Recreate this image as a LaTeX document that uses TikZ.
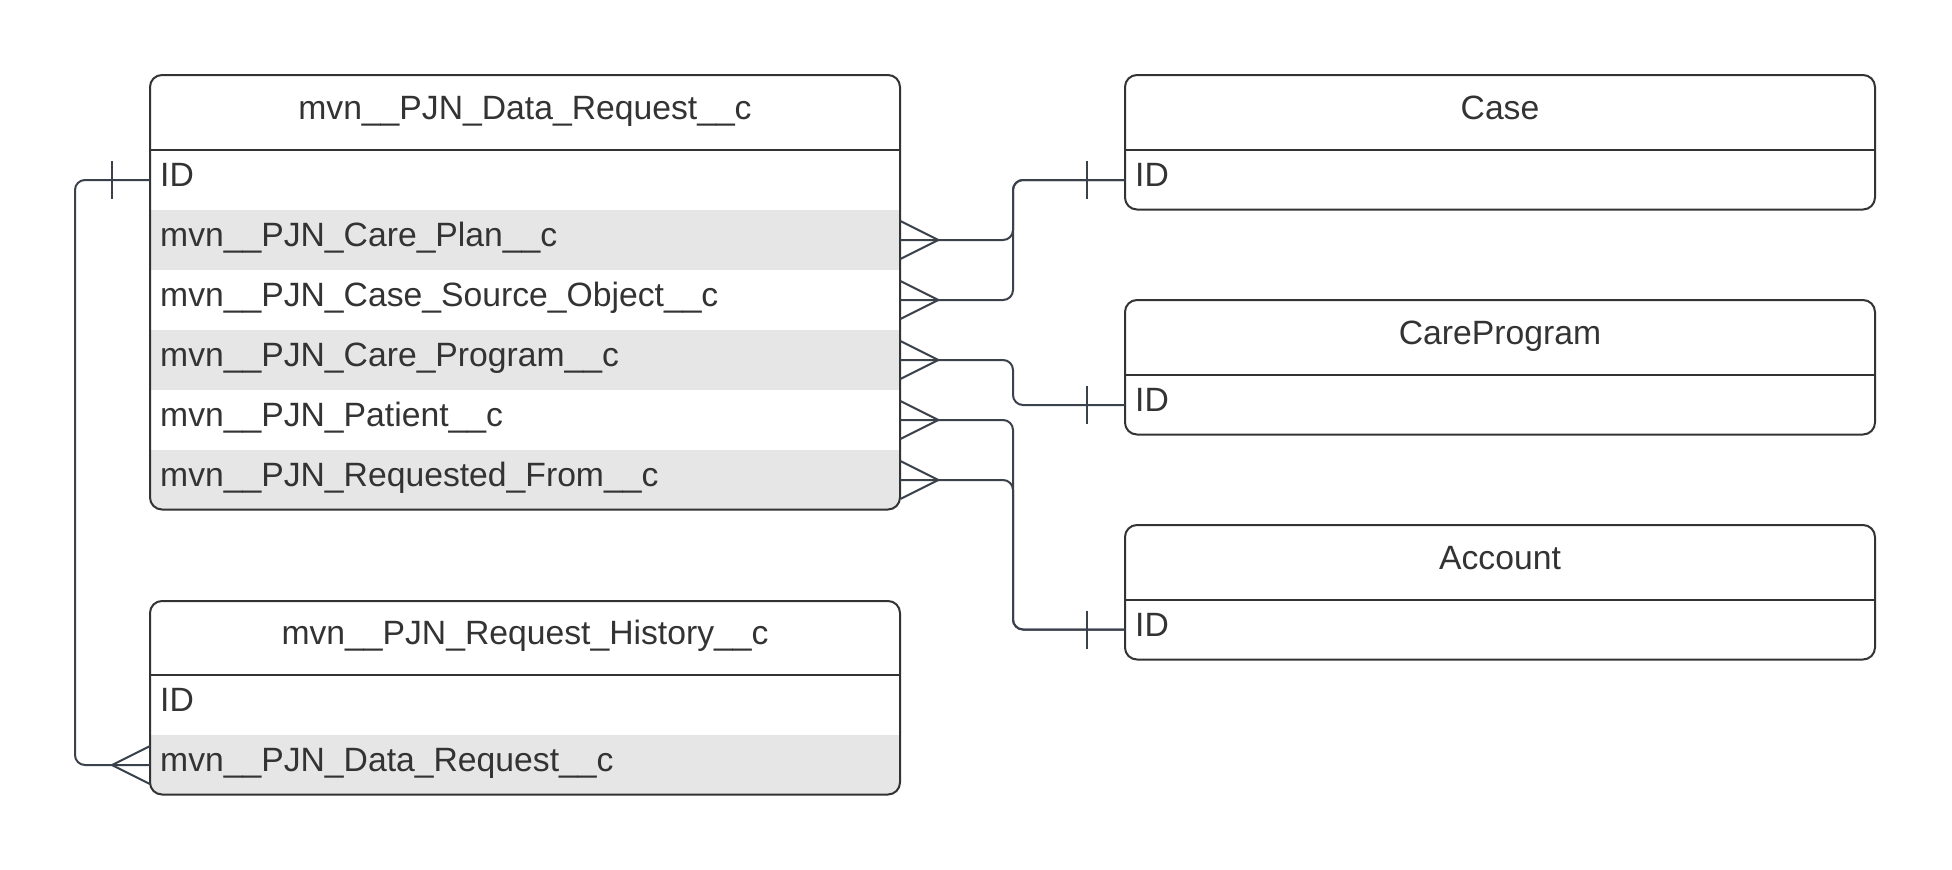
\documentclass[tikz,border=0pt]{standalone}
\usepackage{fontspec}
\setmainfont{Liberation Sans}
\usetikzlibrary{calc}
\definecolor{ink}{HTML}{333333}
\definecolor{wirec}{HTML}{3A414B}
\definecolor{band}{HTML}{E6E6E6}
\begin{document}
\begin{tikzpicture}[x=1pt,y=-1pt,
  every node/.style={font=\fontsize{33.7}{40}\selectfont, text=ink},
  cell/.style={minimum width=750pt, minimum height=60pt, inner xsep=10pt, inner ysep=0pt, text width=730pt, align=left, text height=23.5pt, text depth=10pt, anchor=west},
  shade/.style={cell, fill=band},
  head/.style={inner sep=0pt, text height=23.5pt, text depth=10pt},
  frame/.style={draw=ink, line width=2pt, rounded corners=12pt},
  wireline/.style={draw=wirec, line width=2pt},
  elbow/.style={wireline, rounded corners=10pt}]
\useasboundingbox (0,0) rectangle (1952,870);
% ---------- mvn__PJN_Data_Request__c
\begin{scope}
\clip[rounded corners=12pt] (150,75) rectangle (900,509.5);
\node[cell]  (dr-id) at (150,180) {ID};
\node[shade] (dr-cp) at (150,240) {mvn\_\_PJN\_Care\_Plan\_\_c};
\node[cell]  (dr-cs) at (150,300) {mvn\_\_PJN\_Case\_Source\_Object\_\_c};
\node[shade] (dr-cg) at (150,360) {mvn\_\_PJN\_Care\_Program\_\_c};
\node[cell]  (dr-pt) at (150,420) {mvn\_\_PJN\_Patient\_\_c};
\node[shade] (dr-rf) at (150,480) {mvn\_\_PJN\_Requested\_From\_\_c};
\end{scope}
\node[head] (dr-title) at (525,112.5) {mvn\_\_PJN\_Data\_Request\_\_c};
\draw[frame] (150,75) rectangle (900,509.5);
\draw[frame] (150,150) -- (900,150);
% ---------- Case
\node[cell] (case-id) at (1125,180) {ID};
\node[head] (case-title) at (1500,112.5) {Case};
\draw[frame] (1125,75) rectangle (1875,209.5);
\draw[frame] (1125,150) -- (1875,150);
% ---------- CareProgram
\node[cell] (cp-id) at (1125,405) {ID};
\node[head] (cp-title) at (1500,337.5) {CareProgram};
\draw[frame] (1125,300) rectangle (1875,434.5);
\draw[frame] (1125,375) -- (1875,375);
% ---------- Account
\node[cell] (ac-id) at (1125,629.5) {ID};
\node[head] (ac-title) at (1500,562.5) {Account};
\draw[frame] (1125,525) rectangle (1875,659.5);
\draw[frame] (1125,600) -- (1875,600);
% ---------- mvn__PJN_Request_History__c
\begin{scope}
\clip[rounded corners=12pt] (150,601) rectangle (900,794.5);
\node[cell]  (rh-id) at (150,705) {ID};
\node[shade] (rh-dr) at (150,765) {mvn\_\_PJN\_Data\_Request\_\_c};
\end{scope}
\node[head] (rh-title) at (525,638) {mvn\_\_PJN\_Request\_History\_\_c};
\draw[frame] (150,601) rectangle (900,794.5);
\draw[frame] (150,675) -- (900,675);
% ---------- connectors
\coordinate (trunk) at (1013,0);
\coordinate (rail) at (75,0);
\draw[elbow] (dr-cp.east) -- (dr-cp.east -| trunk) |- (case-id.west);
\draw[elbow] (dr-cs.east) -- (dr-cs.east -| trunk) |- (case-id.west);
\draw[elbow] (dr-cg.east) -- (dr-cg.east -| trunk) |- (cp-id.west);
\draw[elbow] (dr-pt.east) -- (dr-pt.east -| trunk) |- (ac-id.west);
\draw[elbow] (dr-rf.east) -- (dr-rf.east -| trunk) |- (ac-id.west);
\draw[elbow] (dr-id.west) -- (dr-id.west -| rail) |- (rh-dr.west);
% crow's feet (many)
\foreach \n in {dr-cp,dr-cs,dr-cg,dr-pt,dr-rf}
  \draw[wireline] ($(\n.east)+(0,-19)$) -- ($(\n.east)+(38,0)$) -- ($(\n.east)+(0,19)$);
\draw[wireline] ($(rh-dr.west)+(0,-19)$) -- ($(rh-dr.west)+(-38,0)$) -- ($(rh-dr.west)+(0,19)$);
% ticks (one)
\foreach \n in {case-id,cp-id,ac-id}
  \draw[wireline] ($(\n.west)+(-38,-19)$) -- ($(\n.west)+(-38,19)$);
\draw[wireline] ($(dr-id.west)+(-38,-19)$) -- ($(dr-id.west)+(-38,19)$);
\end{tikzpicture}
\end{document}
